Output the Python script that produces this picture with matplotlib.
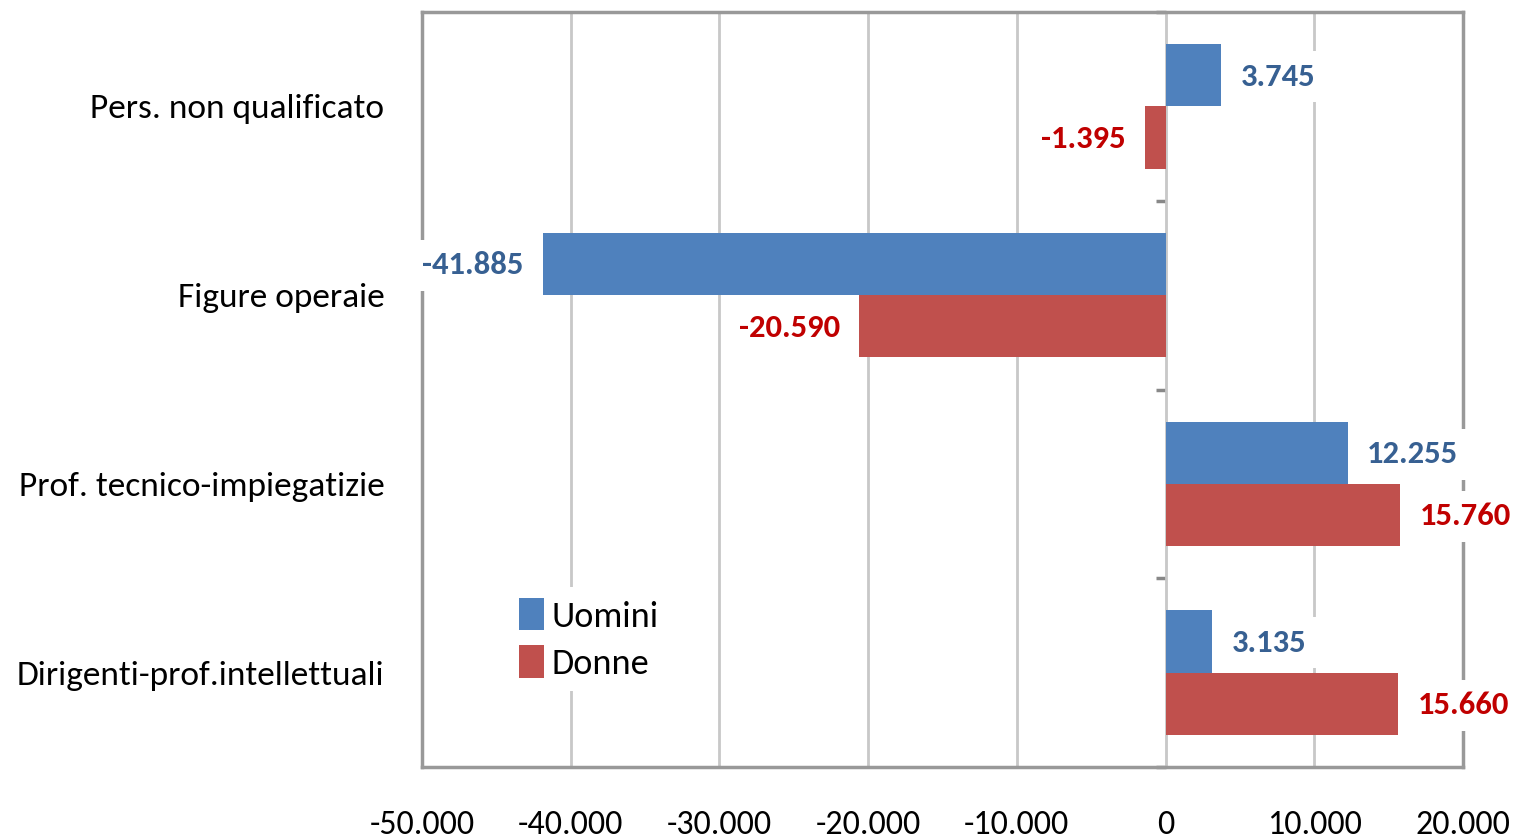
import matplotlib
matplotlib.use("Agg")
import matplotlib.pyplot as plt
import numpy as np

categories = ["Pers. non qualificato", "Figure operaie",
              "Prof. tecnico-impiegatizie", "Dirigenti-prof.intellettuali"]
uomini = [3745, -41885, 12255, 3135]
donne = [-1395, -20590, 15760, 15660]
xticks = [-50000, -40000, -30000, -20000, -10000, 0, 10000, 20000]

plt.rcParams['font.family'] = ['Carlito', 'Liberation Sans Narrow', 'Roboto Condensed',
                               'Open Sans Condensed', 'Lato', 'DejaVu Sans']

BLUE = '#4F81BD'
RED = '#C0504D'
BLUE_TXT = '#376092'
RED_TXT = '#C00000'
GRID = '#C8C8C8'
BORDER = '#999999'


def fmt(v):
    return "{:,}".format(v).replace(",", ".")


fig = plt.figure(figsize=(15.14, 8.40), dpi=100)
ax = fig.add_axes([422/1514, 1-767/840, (1463-422)/1514, (767-12)/840])

y = np.arange(len(categories))
h = 0.33
b1 = ax.barh(y - h/2, uomini, height=h, color=BLUE, label='Uomini', zorder=3)
b2 = ax.barh(y + h/2, donne, height=h, color=RED, label='Donne', zorder=3)

ax.set_xlim(-50000, 20000)
ax.set_ylim(3.5, -0.5)
ax.set_xticks(xticks)
ax.set_xticklabels([fmt(t) for t in xticks], fontsize=24.5)
ax.set_yticks(y)
ax.set_yticklabels(categories, fontsize=25.5)
ax.tick_params(axis='x', length=0, pad=31)
ax.tick_params(axis='y', length=0, pad=27)

ax.grid(axis='x', color=GRID, linewidth=2, zorder=0)
for s in ax.spines.values():
    s.set_color(BORDER)
    s.set_linewidth(2.5)

# zero axis with ticks at category boundaries
sec = ax.secondary_yaxis(50000/70000)
sec.set_ticks(np.arange(len(categories) + 1) - 0.5)
sec.set_yticklabels([])
sec.spines['left'].set_color('#888888')
sec.spines['left'].set_linewidth(2.5)
sec.tick_params(length=7, width=2.5, color='#888888', direction='in')

for bars, vals, col in [(b1, uomini, BLUE_TXT), (b2, donne, RED_TXT)]:
    for bar, v in zip(bars, vals):
        yc = bar.get_y() + bar.get_height()/2
        off = 14 if v > 0 else -14
        ax.annotate(fmt(v), (v, yc), xytext=(off, -1), textcoords='offset points',
                    ha='left' if v > 0 else 'right', va='center',
                    fontsize=23.5, fontweight='bold', color=col, zorder=5,
                    bbox=dict(boxstyle='square,pad=0.35', fc='white', ec='none'))

leg = ax.legend(loc='upper left', bbox_to_anchor=(0.065, 0.262), fontsize=26,
                frameon=True, framealpha=1, edgecolor='none', facecolor='white',
                handlelength=0.7, handleheight=1.0, handletextpad=0.2,
                labelspacing=0.35, borderpad=0.3, fancybox=False)
leg.set_zorder(6)

fig.savefig('out.png', dpi=100)
